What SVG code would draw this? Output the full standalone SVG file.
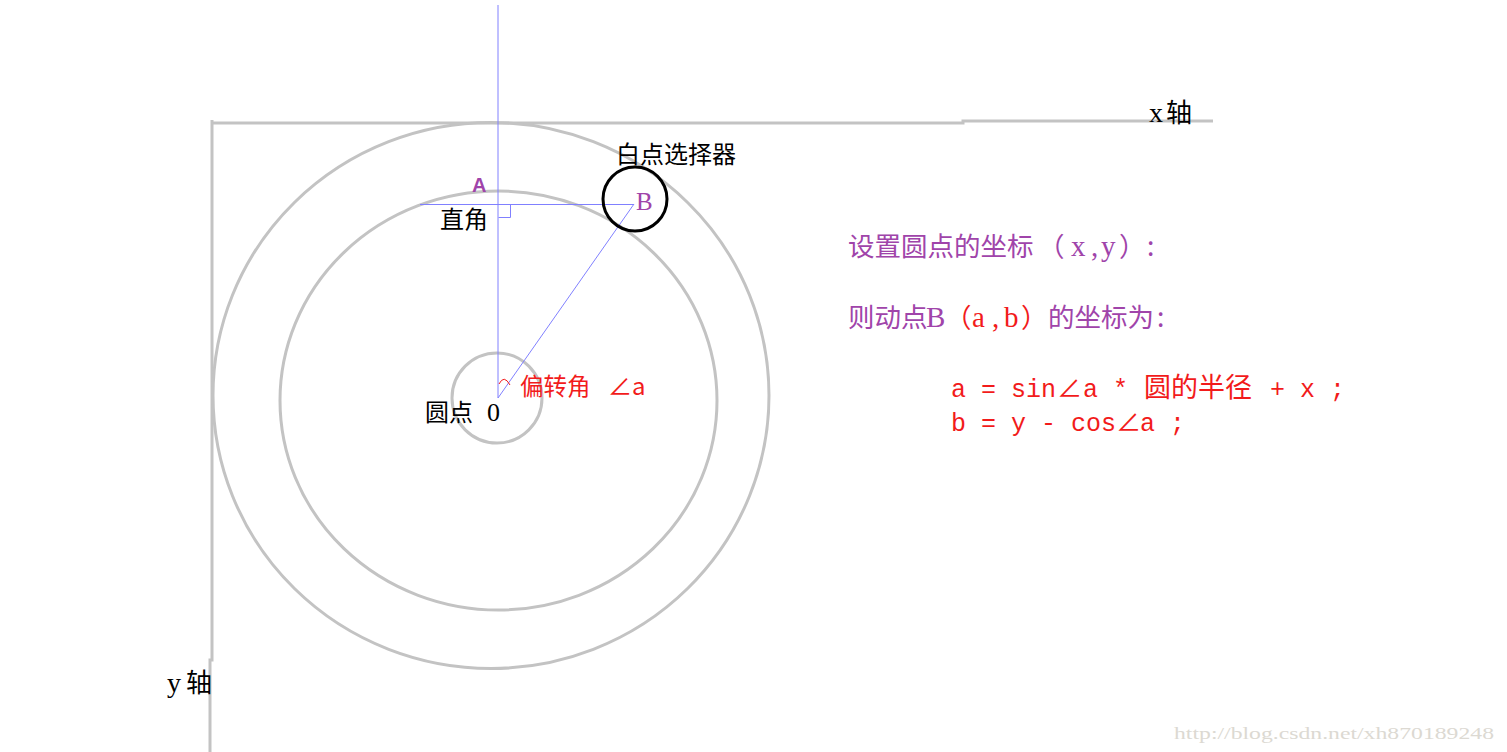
<svg xmlns="http://www.w3.org/2000/svg" width="1507" height="752" viewBox="0 0 1507 752">
<style>
.g{fill:none;stroke:#c3c3c3;stroke-width:3}
.bl{fill:none;stroke:#8080ff;stroke-width:1}
.cjk{font-family:"Noto Sans CJK SC","Liberation Serif",serif}
.ser{font-family:"Liberation Serif",serif}
.k{fill:#000}
.p{fill:#a044aa}
.r{fill:#f21b1b}
.mono{font-family:"Liberation Mono","Noto Sans CJK SC",monospace;fill:#f21b1b;font-size:25px}
</style>
<rect width="1507" height="752" fill="#fff"/>
<g id="axes">
<polyline class="g" points="211,123 963,123 963,121 1213,121"/>
<polyline class="g" points="212,120 212,660 210,660 210,752"/>
</g>
<g id="circles">
<ellipse class="g" cx="491" cy="395.5" rx="278" ry="273"/>
<ellipse class="g" cx="498.5" cy="400.5" rx="218.5" ry="209.5"/>
<circle class="g" cx="497" cy="398" r="45"/>
</g>
<g id="connectors">
<line class="bl" x1="498" y1="5" x2="498" y2="398"/>
<line class="bl" x1="420" y1="204.5" x2="634" y2="204.5"/>
<line class="bl" x1="498" y1="398" x2="634" y2="204"/>
<polyline class="bl" points="498.5,217.5 510.5,217.5 510.5,204.5"/>
<path d="M499,384 Q504,374 510,385" fill="none" stroke="#f21b1b" stroke-width="1"/>
</g>
<g id="selector">
<circle cx="635" cy="199" r="32" fill="none" stroke="#000" stroke-width="3"/>
<text class="cjk k" x="616" y="163" font-size="24">白点选择器</text>
</g>
<g id="pointA"><text x="472" y="192" font-family="Liberation Sans,sans-serif" font-size="20" font-weight="bold" class="p">A</text></g>
<g id="pointB"><text x="636" y="210" class="ser p" font-size="25">B</text></g>
<g id="rightangle"><text class="cjk k" x="440" y="228" font-size="24">直角</text></g>
<g id="origin"><text class="cjk k" x="425" y="421" font-size="24">圆点</text><text x="487" y="421" class="ser k" font-size="26">0</text></g>
<g id="angle"><text class="cjk r" x="520" y="395" font-size="23.5">偏转角</text><text class="cjk r" x="608" y="395" font-size="24">∠a</text></g>
<g id="xaxis"><text x="1149" y="122" class="ser k" font-size="28">x</text><text class="cjk k" x="1166" y="122" font-size="26">轴</text></g>
<g id="yaxis"><text x="167" y="692" class="ser k" font-size="28">y</text><text class="cjk k" x="186" y="692" font-size="26">轴</text></g>
<g id="formula">
<text class="cjk p" x="848" y="256" font-size="26.5">设置圆点的坐标<tspan x="1038">（</tspan><tspan x="1071" class="ser" font-size="29">x</tspan><tspan x="1091" class="ser" font-size="29">,</tspan><tspan x="1101" class="ser" font-size="29">y</tspan><tspan x="1119">）</tspan><tspan x="1147">:</tspan></text>
<text class="cjk p" x="848" y="327" font-size="26.5">则动点<tspan x="926" class="ser" font-size="29">B</tspan><tspan x="945" class="r">（</tspan><tspan x="972" class="r ser" font-size="29">a</tspan><tspan x="992" class="r ser" font-size="29">,</tspan><tspan x="1004" class="r ser" font-size="29">b</tspan><tspan x="1021" class="r">）</tspan><tspan x="1048">的坐标为</tspan><tspan x="1157">:</tspan></text>
<text class="mono" y="397"><tspan x="951">a = sin</tspan><tspan x="1057">∠</tspan><tspan x="1083">a * </tspan><tspan x="1144" font-family="Noto Sans CJK SC,sans-serif" font-size="27">圆的半径</tspan><tspan x="1270">+ x ;</tspan></text>
<text class="mono" y="431"><tspan x="951">b = y - cos</tspan><tspan x="1116">∠</tspan><tspan x="1140">a ;</tspan></text>
</g>
<g id="watermark"><text x="1174" y="739" class="ser" font-size="17" fill="#dcd9d2" textLength="320" lengthAdjust="spacingAndGlyphs">http://blog.csdn.net/xh870189248</text></g>
</svg>
